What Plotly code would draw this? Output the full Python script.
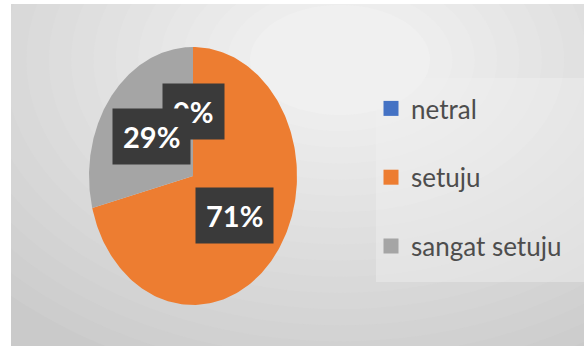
import numpy as np
import plotly.graph_objects as go

# ---- data ----
categories = ["netral", "setuju", "sangat setuju"]
values = [0, 71, 29]
colors = ["#4472C4", "#ED7D31", "#A5A5A5"]

W, H = 584, 346
X0, Y0 = 11, 4          # grey panel starts here (white strip outside)
# pie layout (pixel-like axis units)
CX, CY = 193, 176
RX, RY = 104, 129
LABEL_FRAC = 0.5

fig = go.Figure()

total = float(sum(values))
start = 0.0
label_pos = []
for cat, v, col in zip(categories, values, colors):
    span = 360.0 * v / total
    a0, a1 = start, start + span
    mid = np.radians((a0 + a1) / 2.0)
    label_pos.append((CX + RX * LABEL_FRAC * np.sin(mid), CY - RY * LABEL_FRAC * np.cos(mid)))
    if v > 0:
        th = np.radians(np.linspace(a0, a1, 200))
        xs = np.concatenate([[CX], CX + RX * np.sin(th), [CX]])
        ys = np.concatenate([[CY], CY - RY * np.cos(th), [CY]])
        fig.add_trace(go.Scatter(x=xs, y=ys, mode="lines", fill="toself",
                                 fillcolor=col, line=dict(width=0, color=col),
                                 showlegend=False, hoverinfo="skip", legendgroup=cat))
    start = a1

# legend proxies
for cat, col in zip(categories, colors):
    fig.add_trace(go.Scatter(x=[None], y=[None], mode="markers", name=cat,
                             marker=dict(symbol="square", size=15, color=col),
                             legendgroup=cat, showlegend=True))

# labels
for (lx, ly), v in zip(label_pos, values):
    pct = int(round(v / total * 100))
    fig.add_annotation(x=lx, y=ly, xref="x", yref="y", text=f"{pct}%",
                       showarrow=False, bgcolor="#3a3a3a", borderpad=10,
                       font=dict(family="Lato", size=29, color="white", weight="bold"))

# background: soft radial-ish gradient inside the grey panel
shapes = [dict(type="rect", xref="x", yref="y", x0=X0, y0=Y0, x1=W, y1=H,
               fillcolor="#cacaca", line=dict(width=0), layer="below")]
steps = 18
for i in range(steps):
    t = i / (steps - 1)
    rx = 470 - 380 * t
    ry = 330 - 275 * t
    g = int(0xcd + (0xf0 - 0xcd) * t)
    c = f"#{g:02x}{g:02x}{g:02x}"
    shapes.append(dict(type="circle", xref="x", yref="y",
                       x0=340 - rx, x1=340 + rx, y0=60 - ry, y1=60 + ry,
                       fillcolor=c, line=dict(width=0), layer="below"))
shapes.append(dict(type="rect", xref="x", yref="y", x0=376, y0=78, x1=W, y1=282,
                   fillcolor="#f0f0f0", opacity=0.45, line=dict(width=0), layer="below"))

fig.update_layout(
    width=W, height=H, autosize=False,
    margin=dict(l=0, r=0, t=0, b=0),
    paper_bgcolor="white", plot_bgcolor="rgba(0,0,0,0)",
    xaxis=dict(range=[X0, W], domain=[X0 / W, 1], visible=False, fixedrange=True),
    yaxis=dict(range=[H, Y0], domain=[0, 1 - Y0 / H], visible=False, fixedrange=True),
    shapes=shapes,
    showlegend=True,
    legend=dict(x=371 / W, y=1 - 85 / H, xanchor="left", yanchor="top",
                font=dict(family="Lato", size=26, color="#4d4d4d"),
                bgcolor="rgba(0,0,0,0)", traceorder="grouped", tracegroupgap=32,
                itemclick=False, itemdoubleclick=False),
)

fig.write_html("out.html")
